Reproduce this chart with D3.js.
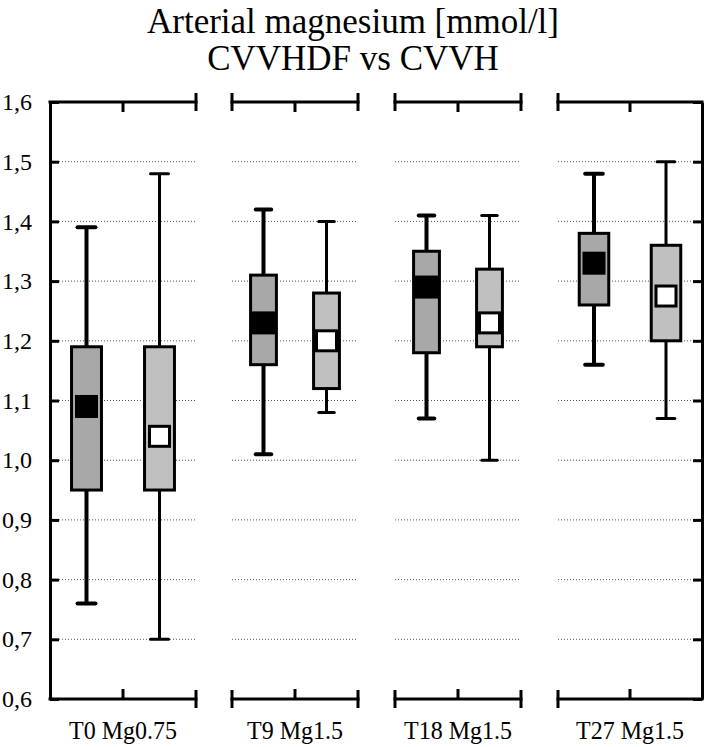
<!DOCTYPE html>
<html>
<head>
<meta charset="utf-8">
<script src="https://cdn.jsdelivr.net/npm/d3@7"></script>
<style>
  html, body { margin: 0; padding: 0; background: #fff; }
  svg { display: block; }
  svg text { font-family: "Liberation Serif", "Times New Roman", serif !important; fill: #000; }
</style>
</head>
<body>
<svg id="chart" width="706" height="747"></svg>
<script>
// ---- data ----
const categories = ["T0 Mg0.75", "T9 Mg1.5", "T18 Mg1.5", "T27 Mg1.5"];
const groups = ["CVVHDF", "CVVH"];
const yTicks = [0.6, 0.7, 0.8, 0.9, 1.0, 1.1, 1.2, 1.3, 1.4, 1.5, 1.6];
const titleLines = ["Arterial magnesium [mmol/l]", "CVVHDF vs CVVH"];

const cvvhdfMin = [0.76, 1.01, 1.07, 1.16];
const cvvhdfQ1  = [0.95, 1.16, 1.18, 1.26];
const cvvhdfMid = [1.09, 1.23, 1.29, 1.33];
const cvvhdfQ3  = [1.19, 1.31, 1.35, 1.38];
const cvvhdfMax = [1.39, 1.42, 1.41, 1.48];

const cvvhMin = [0.70, 1.08, 1.00, 1.07];
const cvvhQ1  = [0.95, 1.12, 1.19, 1.20];
const cvvhMid = [1.04, 1.20, 1.23, 1.275];
const cvvhQ3  = [1.19, 1.28, 1.32, 1.36];
const cvvhMax = [1.48, 1.40, 1.41, 1.50];

// ---- layout ----
const FONT = "'Liberation Serif', 'Times New Roman', serif";
const svg = d3.select("#chart");
const plotLeft = 50, plotRight = 702, plotTop = 102, plotBottom = 699;
const panelX0 = [50, 232, 395, 558];
const panelX1 = [196, 358, 521, 702];

const y = d3.scaleLinear().domain([0.6, 1.6]).range([plotBottom, plotTop]);
const fmt = v => d3.format(".1f")(v).replace(".", ",");

const series = [
  { key: "CVVHDF", min: cvvhdfMin, q1: cvvhdfQ1, mid: cvvhdfMid, q3: cvvhdfQ3, max: cvvhdfMax,
    fill: "#a8a8a8", lw: 4, markFill: "#000", markStroke: "none" },
  { key: "CVVH", min: cvvhMin, q1: cvvhQ1, mid: cvvhMid, q3: cvvhQ3, max: cvvhMax,
    fill: "#c0c0c0", lw: 3, markFill: "#fff", markStroke: "#000" }
];

// title
svg.selectAll("text.title").data(titleLines).join("text")
  .attr("class", "title")
  .attr("transform", (d, i) => `translate(353,${[33, 70][i]}) scale(1,1.05)`)
  .attr("text-anchor", "middle")
  .attr("font-size", 35)
  .style("font-family", FONT)
  .text(d => d);

// grid lines per panel
const gridVals = yTicks.filter(v => v > 0.6 && v < 1.6);
categories.forEach((c, i) => {
  svg.append("g").selectAll("line").data(gridVals).join("line")
    .attr("x1", panelX0[i] + (i === 0 ? 9 : 0))
    .attr("x2", panelX1[i] - (i === 3 ? 9 : 0))
    .attr("y1", d => y(d)).attr("y2", d => y(d))
    .attr("stroke", "#555").attr("stroke-width", 1)
    .attr("stroke-dasharray", "1,2");
});

// left axis
const leftAxis = svg.append("g").attr("transform", `translate(${plotLeft},0)`)
  .call(d3.axisLeft(y).tickValues(yTicks).tickFormat(fmt).tickSizeInner(-9).tickSizeOuter(0).tickPadding(18));
leftAxis.attr("font-family", FONT).attr("font-size", 24);
leftAxis.select(".domain").attr("stroke", "#000").attr("stroke-width", 3);
leftAxis.selectAll(".tick line").attr("stroke", "#000").attr("stroke-width", 3);
leftAxis.selectAll(".tick text").attr("font-size", 24).style("font-family", FONT);

// right axis
const rightAxis = svg.append("g").attr("transform", `translate(${plotRight},0)`)
  .call(d3.axisRight(y).tickValues(yTicks).tickFormat("").tickSizeInner(-9).tickSizeOuter(0));
rightAxis.select(".domain").attr("stroke", "#000").attr("stroke-width", 3);
rightAxis.selectAll(".tick line").attr("stroke", "#000").attr("stroke-width", 3);

// panel top / bottom axes
categories.forEach((c, i) => {
  const px = d3.scaleLinear().domain([0, 2]).range([panelX0[i], panelX1[i]]);
  [plotTop, plotBottom].forEach((yy, k) => {
    const g = svg.append("g");
    g.append("line").attr("x1", px(0)).attr("x2", px(2)).attr("y1", yy).attr("y2", yy)
      .attr("stroke", "#000").attr("stroke-width", 3).attr("stroke-linecap", "square");
    g.append("line").attr("x1", px(1)).attr("x2", px(1))
      .attr("y1", yy).attr("y2", k === 0 ? yy + 10 : yy - 10)
      .attr("stroke", "#000").attr("stroke-width", 3);
    const ends = [];
    if (i !== 0) ends.push(0);
    if (i !== categories.length - 1) ends.push(2);
    ends.forEach(e => {
      g.append("line").attr("x1", px(e)).attr("x2", px(e))
        .attr("y1", yy - 9).attr("y2", yy + 9)
        .attr("stroke", "#000").attr("stroke-width", 3);
    });
  });
  svg.append("text")
    .attr("transform", `translate(${px(1)},739) scale(1,1.05)`)
    .attr("text-anchor", "middle").attr("font-size", 24)
    .style("font-family", FONT)
    .text(c);
});

// boxes
categories.forEach((c, i) => {
  const xb = d3.scaleBand().domain(groups).range([panelX0[i], panelX1[i]]).paddingInner(0.59).paddingOuter(0.295);
  series.forEach(s => {
    const bw = xb.bandwidth();
    const cx = xb(s.key) + bw / 2;
    const g = svg.append("g");
    const capW = bw * 0.6;
    g.append("line").attr("x1", cx).attr("x2", cx)
      .attr("y1", y(s.min[i])).attr("y2", y(s.max[i]))
      .attr("stroke", "#000").attr("stroke-width", s.lw);
    [s.min[i], s.max[i]].forEach(v => {
      g.append("line").attr("x1", cx - capW / 2).attr("x2", cx + capW / 2)
        .attr("y1", y(v)).attr("y2", y(v))
        .attr("stroke", "#000").attr("stroke-width", s.lw).attr("stroke-linecap", "round");
    });
    g.append("rect")
      .attr("x", cx - bw / 2).attr("width", bw)
      .attr("y", y(s.q3[i])).attr("height", y(s.q1[i]) - y(s.q3[i]))
      .attr("fill", s.fill).attr("stroke", "#000").attr("stroke-width", 3);
    const m = 23;
    if (s.markStroke === "none") {
      g.append("rect").attr("x", cx - m / 2).attr("y", y(s.mid[i]) - m / 2)
        .attr("width", m).attr("height", m).attr("fill", s.markFill);
    } else {
      g.append("rect").attr("x", cx - (m - 3) / 2).attr("y", y(s.mid[i]) - (m - 3) / 2)
        .attr("width", m - 3).attr("height", m - 3)
        .attr("fill", s.markFill).attr("stroke", s.markStroke).attr("stroke-width", 3);
    }
  });
});
</script>
</body>
</html>
